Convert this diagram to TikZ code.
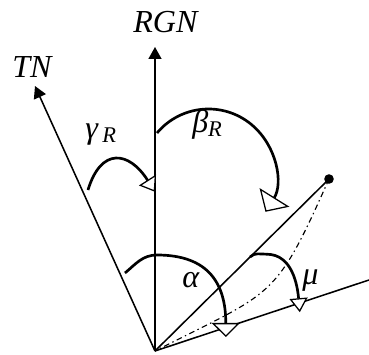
\documentclass[tikz,border=0pt]{standalone}
\usepackage{fontspec}
\setmainfont{Liberation Serif}
\usepackage{tikz}
\usetikzlibrary{arrows.meta}

\begin{document}
\begin{tikzpicture}[
      axis/.style={line width=1.1pt,-{Triangle[width=9.2pt,length=8.5pt]}},
      ray/.style={line width=1.1pt},
      turn/.style={line width=1.9pt},
      openhead/.style 2 args={-{Triangle[fill=white,line width=0.9pt,width=#1,length=#2]}},
      lbl/.style={inner sep=0pt,anchor=base west,font=\fontsize{22.8}{26}\selectfont\itshape}
    ]
      \useasboundingbox (-3.875,-0.075) rectangle (5.35,8.775);
      % Points (origin at the common vertex)
      \coordinate (O) at (0,0);
      \coordinate (rgn) at (0,7.6);
      \coordinate (tn) at (-3.0,6.625);
      \coordinate (target) at (4.35,4.3);
      \coordinate (east) at (5.35,1.775);
      % Axes and rays
      \draw[axis] (O) -- (rgn);
      \draw[axis] (O) -- (tn);
      \draw[ray] (O) -- (target);
      \draw[ray] (O) -- (east);
      % Dash-dot track
      \draw[line width=0.8pt,dash pattern=on 4pt off 2.5pt on 1pt off 2.5pt] (target) to[out=246,in=27,looseness=1.4] (O);
      % Angle arrows
      \draw[turn,openhead={0.5cm}{0.35cm}] (-1.675,4.025) .. controls (-1.35,5.1) and (-0.65,5.0) .. (0,3.98);
      \draw[turn,openhead={0.875cm}{0.425cm}] (0.05,5.45) arc[start angle=140,end angle=-32,radius=1.68];
      \draw[turn,openhead={0.7cm}{0.35cm}] (-0.75,1.95) to[out=40,in=180] (0.05,2.4) to[out=0,in=90,looseness=1.25] (1.77,0.35);
      \draw[turn,openhead={0.45cm}{0.35cm}] (2.375,2.35) to[out=45,in=180] (2.79,2.42) to[out=0,in=95] (3.62,0.97);
      % Target point
      \fill (target) circle (0.12);
      % Labels
      \node[lbl] (rgnlbl) at (-0.55,7.975) {RGN};
      \node[lbl] (tnlbl) at (-3.575,6.85) {TN};
      \node[lbl] (gammalbl) at (-1.75,5.325) {γ\textsubscript{\hspace{0.2em}R}};
      \node[lbl] (betalbl) at (0.925,5.475) {β\textsubscript{R}};
      \node[lbl] (alphalbl) at (0.675,1.6) {α};
      \node[lbl] (mulbl) at (3.675,1.675) {μ};
    \end{tikzpicture}
\end{document}
